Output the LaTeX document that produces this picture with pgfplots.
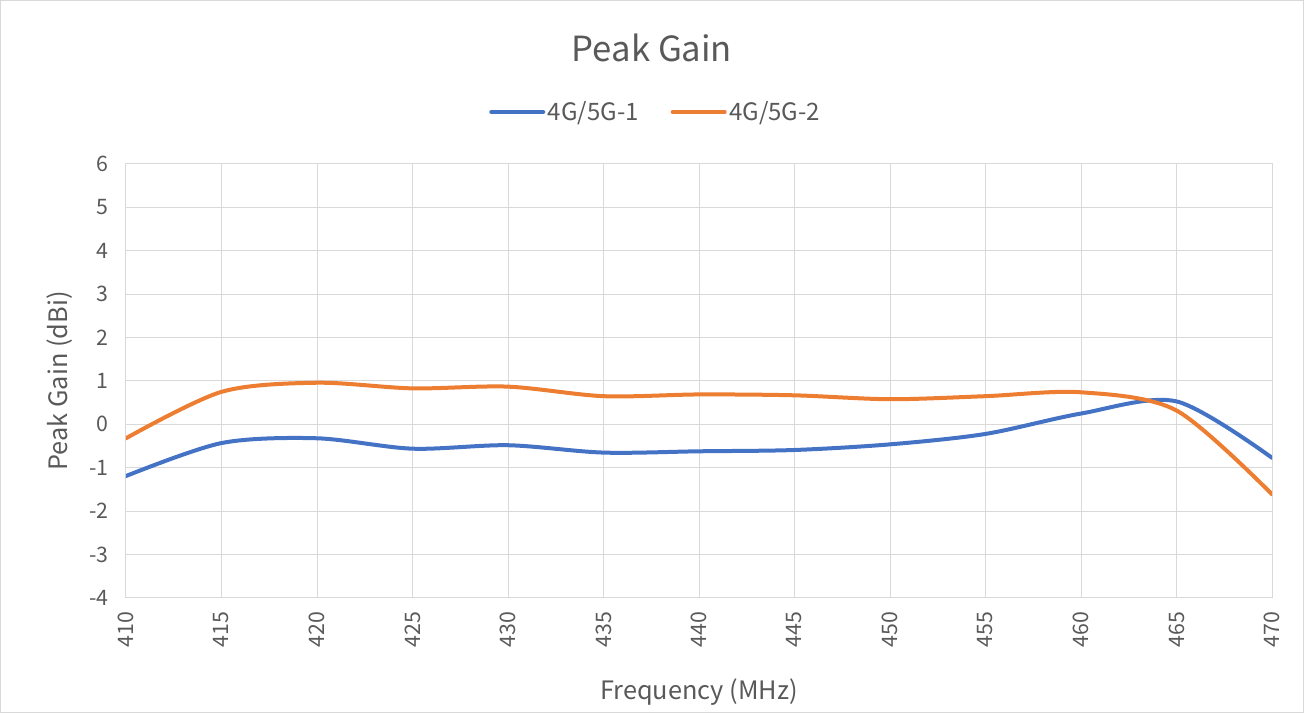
\documentclass[border=0pt]{standalone}
\usepackage{pgfplots}
\pgfplotsset{compat=1.18}
\usepackage{fontspec}
\setmainfont{Noto Sans CJK SC}
\definecolor{cblue}{HTML}{4472C4}
\definecolor{corange}{HTML}{ED7D31}
\definecolor{cgrid}{HTML}{D9D9D9}
\definecolor{ctext}{HTML}{595959}
\begin{document}
\begin{tikzpicture}
\useasboundingbox (0,0) rectangle (978pt,534.75pt);
\draw[cgrid, line width=0.75pt] (0.5pt,0.5pt) rectangle (977.5pt,534.25pt);
\begin{axis}[
  at={(94.5pt,86.25pt)}, anchor=south west,
  scale only axis, width=859.5pt, height=325.5pt,
  xmin=410, xmax=470, ymin=-4, ymax=6,
  xtick={410,415,...,470}, ytick={-4,-3,...,6},
  grid=major, major grid style={cgrid, line width=0.75pt},
  axis line style={cgrid, line width=0.75pt},
  major tick length=0pt,
  /pgf/number format/assume math mode=true,
  /pgf/number format/1000 sep={},
  tick label style={font=\fontsize{16}{19}\selectfont, text=ctext},
  xticklabel style={rotate=90, anchor=east, inner sep=0pt},
  xticklabel shift=10pt,
  yticklabel style={anchor=east, inner sep=0pt},
  yticklabel shift=13pt,
  xlabel={Frequency (MHz)},
  ylabel={Peak Gain (dBi)},
  label style={font=\fontsize{19}{22}\selectfont, text=ctext},
  xlabel style={at={(axis description cs:0.5,-0.2166)}, anchor=center},
  ylabel style={at={(axis description cs:-0.0576,0.5)}, anchor=center},
  title={Peak Gain},
  title style={font=\fontsize{26}{30}\selectfont, text=ctext, at={(axis description cs:0.459,1.249)}, anchor=center},
  legend columns=2,
  legend style={draw=none, fill=none, at={(axis description cs:0.4625,1.1198)}, anchor=center,
    font=\fontsize{18}{22}\selectfont, text=ctext,
    /tikz/every even column/.append style={column sep=22pt},
    inner sep=0pt},
  legend cell align=left,
  legend image code/.code={\draw[#1] (0pt,0pt) -- (39pt,0pt);},
]
\addplot[cblue, line width=3pt, smooth, line cap=round] coordinates {
(410,-1.19) (415,-0.43) (420,-0.32) (425,-0.56) (430,-0.48) (435,-0.65) (440,-0.62)
(445,-0.59) (450,-0.46) (455,-0.22) (460,0.25) (465,0.53) (470,-0.77)
};
\addlegendentry{4G/5G-1}
\addplot[corange, line width=3pt, smooth, line cap=round] coordinates {
(410,-0.32) (415,0.75) (420,0.96) (425,0.83) (430,0.87) (435,0.65) (440,0.69)
(445,0.67) (450,0.58) (455,0.65) (460,0.74) (465,0.32) (470,-1.61)
};
\addlegendentry{4G/5G-2}
\end{axis}
\end{tikzpicture}
\end{document}
